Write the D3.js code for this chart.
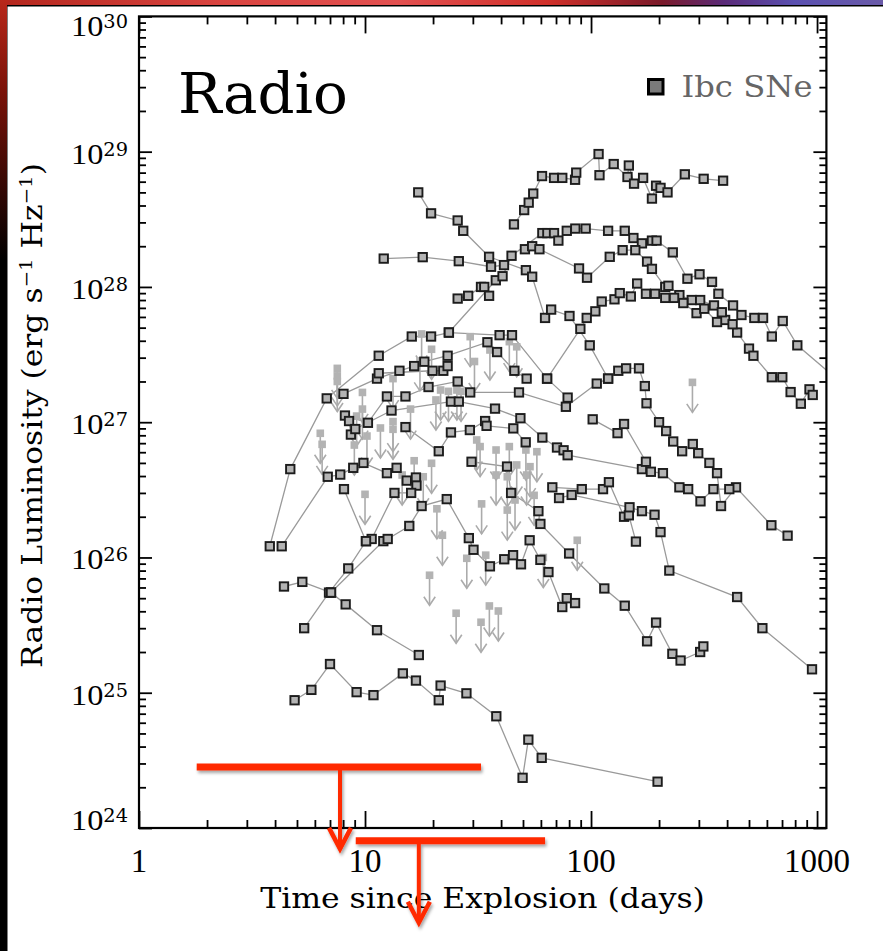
<!DOCTYPE html>
<html><head><meta charset="utf-8">
<script src="https://cdn.jsdelivr.net/npm/d3@7"></script>
<style>html,body{margin:0;padding:0;background:#000;overflow:hidden}svg{display:block}</style>
</head><body>
<svg id="c" width="883" height="951"></svg>
<script>
// ---------- data (days, erg/s/Hz) ----------
const curveA = [[45.6,2.9e28],[50.6,3.7e28],[53,4.2e28],[55.5,4.9e28],[60.7,6.6e28],[68.6,6.4e28],[74.6,6.4e28],[85,6.2e28],[86,7.0e28],[108,9.6e28],[109,6.7e28],[126,8.1e28],[145,6.5e28],[147,7.9e28],[155,5.8e28],[170,6.4e28],[186,4.5e28],[194,5.6e28],[203,5.4e28],[218,5.0e28],[260,6.8e28],[315,6.3e28],[384,6.1e28]];
const curveB = [[23.5,4.6e27],[37.9,1.12e28],[40.6,1.2e28],[44.5,1.7e28],[60.9,2.5e28],[64.1,2.5e28],[68.6,2.5e28],[71.7,2.2e28],[78.1,2.6e28],[85.2,2.7e28],[94.7,2.7e28],[119,2.6e28],[141,2.6e28],[154,2.3e28],[168,2.1e28],[186,2.2e28],[195,2.2e28],[230,1.8e28],[267,1.15e28],[302,1.24e28],[343,1.09e28],[366,8.9e27],[425,7.3e27],[463,6.2e27],[528,5.9e27],[577,5.9e27],[631,4.3e27],[705,5.6e27],[818,3.7e27],[1330,1.85e27]];
const curveC = [[51,1.9e28],[54.9,2.0e28],[59.1,1.9e28],[88.5,1.37e28],[96,1.17e28],[121,1.67e28],[138,1.87e28],[157,1.87e28],[177,1.54e28],[186,1.36e28],[213,1.0e28],[220,1.02e28],[246,8.7e27],[279,8.0e27],[304,8.0e27],[350,7.3e27],[392,5.7e27],[443,4.6e27],[500,3.5e27],[523,3.1e27],[631,2.15e27],[702,2.15e27],[764,1.67e27],[848,1.37e27],[926,1.75e27],[957,1.59e27]];
const curveD = [[17.2,5.0e28],[19.6,3.5e28],[25.7,3.1e28],[27.2,2.6e28],[35.4,1.67e28],[51.5,1.33e28],[54.9,1.19e28],[62.6,5.9e27],[66.6,6.8e27],[80.3,6.1e27],[98.7,3.7e27],[119,2.1e27],[132,2.4e27],[143,2.5e27],[163,2.5e27],[173,1.85e27],[176,1.38e27],[200,1.0e27],[215,8.6e26],[231,7.2e26],[253,6.1e26],[282,6.9e26],[298,5.9e26],[334,5.0e26],[361,4.2e26],[376,2.4e26],[438,3.3e26],[628,1.73e26],[741,1.45e26]];
const curveE = [[63.9,2.1e27],[89.7,4.9e27],[95.7,5.9e27],[104.5,6.6e27],[111.5,7.8e27],[127,8.1e27],[134,9.0e27],[150,8.5e27],[160,1.06e28],[175,8.9e27],[192,8.9e27],[213,8.3e27],[233,8.3e27],[256,7.6e27],[293,6.4e27],[317,6.9e27],[361,5.5e27],[379,6.5e27],[423,5.3e27]];
const curveF = [[12.1,1.62e28],[18.0,1.66e28],[26.0,1.55e28],[36.1,1.41e28],[41.2,1.45e28]];
const curveG = [[25.7,8.2e27],[28.6,8.6e27],[32.6,1.0e28],[33.7,1.0e28],[35.4,8.6e27]];
const curveH = [[3.79,1.21e26],[4.67,4.5e26],[6.77,1.5e27],[11.5,3.1e27],[16.1,4.3e27],[19.6,4.3e27],[23.5,4.6e27],[39.4,4.4e27],[44.7,4.4e27],[63.9,2.1e27],[78.8,1.52e27]];
const curveI = [[8.03,1.62e27],[11.3,2.1e27],[14.2,2.4e27],[16.5,2.6e27],[18.3,2.8e27],[23.2,3.1e27],[34.8,3.9e27],[38.4,3.3e27],[45.8,2.4e27],[51.9,2.1e27]];
const curveJ = [[11.5,2.3e27],[19.9,2.4e27],[22.2,2.4e27],[23.2,2.6e27]];
const curveK = [[4.28,1.21e26],[6.84,3.95e26],[7.77,4.1e26],[8.87,4.6e26],[9.84,5.0e26],[12.5,4.2e26],[13.8,4.6e26],[15.3,3.7e26],[16.8,3.9e26],[16.9,3.4e26]];
const curveM = [[8.15,1.12e27],[10.3,9.9e26],[12.5,1.55e27],[15.1,1.55e27],[19.1,1.82e27],[25.7,2.0e27],[29.2,1.66e27],[48,1.66e27],[77.4,1.3e27],[106,1.93e27],[119,2.1e27]];
const curveN = [[8.5,1.02e27],[8.66,8.1e26],[9.06,8.9e26],[13.1,1.22e27],[24,1.42e27],[26,1.42e27],[37.6,1.26e27],[48.7,1.07e27],[60.9,7.7e26],[70.7,6.5e26],[75.6,6.2e26],[78.8,5.7e26],[168,4.5e26]];
const curveT = [[15.1,9.2e26],[21.2,6.1e26],[24.0,8.4e26],[29.1,8.75e26],[34.0,1.02e27],[34.5,9.4e26],[45.3,9.0e26],[51.4,7.1e26]];
const curveO = [[4.38,6.1e25],[5.28,6.6e25],[7.07,5.5e25],[8.21,4.5e25],[11.3,2.9e25],[17.3,1.9e25]];
const curveP = [[5.38,3.0e25],[6.93,5.5e25],[8.43,8.3e25],[10.1,1.32e26],[10.7,1.37e26],[13.5,3.0e26],[16.0,3.0e26]];
const curveQ = [[7.07,5.5e25],[12.05,1.32e26],[12.6,1.37e26],[15.7,1.71e26],[17.8,2.4e26],[23.0,2.7e26],[28.8,1.39e26],[30.2,1.14e26],[35.7,8.6e25],[41.3,9.7e25],[45.2,1.04e26],[49.0,8.9e25],[53.5,1.34e26],[59.7,9.6e25],[64.8,7.8e25],[74.6,4.3e25],[78.1,5.0e25],[85,4.6e25]];
const curveR = [[8.07,3.2e26],[10.1,1.32e26]];
const curveS = [[4.88,8.8e24],[5.79,1.05e25],[7.0,1.63e25],[9.18,1.01e25],[10.9,9.6e24],[14.7,1.39e25],[16.8,1.23e25],[21.2,8.8e24],[21.6,1.13e25],[28.1,9.9e24],[38.1,6.7e24],[49.8,2.35e24],[52.8,4.5e24],[60.5,3.3e24],[197,2.2e24]];
const curveU = [[29.6,5.1e26],[42.5,4.7e26],[44.3,3.0e26],[58.5,2.2e26],[59.7,1.77e26],[80,1.07e26],[114.5,5.9e25],[141,4.4e25],[177,2.4e25],[194,3.3e25],[229,1.94e25],[249,1.73e25],[304,2.0e25],[314,2.2e25]];
const curveV = [[67.4,3.3e26],[91,3.2e26],[113,3.2e26],[120,3.6e26],[140,2.0e26],[147,2.05e26],[158,1.31e26]];
const curveW = [[72.2,2.75e26],[82.1,2.9e26],[148,2.35e26],[168,2.2e26],[191,2.07e26],[203,1.54e26],[222,8.0e25],[443,5.1e25],[573,3.0e25],[950,1.49e25]];
const curveX = [[101.7,1.05e27],[131,8.3e26],[140,9.7e26],[175,5.1e26],[184,4.3e26],[208,4.2e26],[246,3.3e26],[269,3.2e26],[305,2.6e26],[348,3.2e26],[409,3.2e26]];

// upper limits
const limT = [7.54,7.54,7.54,9.74,9.74,9.18,13.3,13.3,15.9,11.7,13.3,10.2,6.34,6.46,8.97,17.8,19.7,16.5,20.6,17.5,21.6,23.4,25.5,26.6,29.2,30.5,35.7,43.5,46.9,31.2,32.3,38.0,43.5,46.9,51.5,57.6,42.6,51.9,53.7,56,32.8,42.6,46.1,20.8,22,28.2,34.2,19.3,19.7,18.1,14.6,10.0,86.9,61.5,25.3,35.5,38.9,32.6,281,38.0];
const limL = [2.5e27,2.2e27,2.0e27,1.66e27,1.25e27,1.11e27,2.1e27,1.01e27,1.25e27,9.06e26,8.86e26,7.9e26,8.28e26,6.86e26,6.78e26,4.49e27,3.46e27,5.19e26,1.46e27,2.84e27,1.73e27,1.69e27,1.73e27,1.69e27,4.29e27,2.81e27,3.42e27,3.94e27,3.61e27,7.39e26,6.6e26,6.23e26,6.6e26,4.83e26,6.23e26,6.05e26,3.95e26,4.07e26,4.69e26,2.88e26,2.49e26,2.24e26,2.66e26,2.29e26,1.46e26,9.86e25,1.04e26,7.39e25,4.97e26,3.95e26,4.07e26,2.93e26,1.34e26,1.0e26,3.87e25,4.38e25,4.02e25,3.32e25,1.97e27,4.07e26];

// red limits (start day, end day, arrow day, luminosity)
const redStart = [1.8, 9.1];
const redEnd = [32.6, 62.6];
const redArrow = [7.75, 17.3];
const redLum = [2.83e24, 8.06e23];

// axes
const xDomain = [1, 1100];
const yDomain = [1e24, 1e30];
const xMajor = [1, 10, 100, 1000];
const xTickLabels = ["1", "10", "100", "1000"];
const yExponents = [24, 25, 26, 27, 28, 29, 30];

// ---------- drawing ----------
const W = 883, H = 951;
const L = 139, R = 826.4, T = 16.4, B = 828;
const svg = d3.select("#c");
const defs = svg.append("defs");

const tg = defs.append("linearGradient").attr("id","topg").attr("x1","0").attr("x2","1").attr("y1","0").attr("y2","0");
[["0","#b3261c"],["0.25","#d94440"],["0.45","#e25050"],["0.62","#d0302a"],["0.75","#7a1a2a"],["0.82","#5a2a78"],["0.9","#5a50b0"],["1","#6a5aa8"]]
  .forEach(s=>tg.append("stop").attr("offset",s[0]).attr("stop-color",s[1]));
const lg = defs.append("linearGradient").attr("id","leftg").attr("gradientUnits","userSpaceOnUse")
  .attr("x1",0).attr("x2",0).attr("y1",0).attr("y2",260);
[["0","#b8281a"],["0.35","#7a1208"],["1","#000"]].forEach(s=>lg.append("stop").attr("offset",s[0]).attr("stop-color",s[1]));
const flt = defs.append("filter").attr("id","sh").attr("x","-20%").attr("y","-50%").attr("width","140%").attr("height","200%");
flt.append("feDropShadow").attr("dx",1.5).attr("dy",2.5).attr("stdDeviation",1.6).attr("flood-color","#000").attr("flood-opacity",0.35);
defs.append("clipPath").attr("id","clip").append("rect").attr("x",L).attr("y",T).attr("width",R-L).attr("height",B-T);

svg.append("rect").attr("width",W).attr("height",H).attr("fill","#000");
svg.append("rect").attr("x",0).attr("y",0).attr("width",W).attr("height",5).attr("fill","url(#topg)");
svg.append("rect").attr("x",0).attr("y",0).attr("width",7).attr("height",H).attr("fill","url(#leftg)");
svg.append("rect").attr("x",7.5).attr("y",6.5).attr("width",W-7.5).attr("height",H-6.5).attr("fill","#fff");

const x = d3.scaleLog().domain(xDomain).range([L, R]);
const y = d3.scaleLog().domain(yDomain).range([B, T]);

// minor ticks
const xMinor = [];
[1,10,100].forEach(d=>{for(let m=2;m<=9;m++) xMinor.push(d*m);});
const yMinor = [];
for(let e=24;e<30;e++){for(let m=2;m<=9;m++) yMinor.push(m*Math.pow(10,e));}
const yMajor = yExponents.map(e=>Math.pow(10,e));

function styleAxis(g){ g.select(".domain").remove(); g.selectAll(".tick line").attr("stroke","#000").attr("stroke-width",1.8); }
svg.append("g").attr("transform",`translate(0,${B})`).call(d3.axisBottom(x).tickValues(xMajor).tickSize(-17).tickFormat("")).call(styleAxis);
svg.append("g").attr("transform",`translate(0,${B})`).call(d3.axisBottom(x).tickValues(xMinor).tickSize(-8).tickFormat("")).call(styleAxis);
svg.append("g").attr("transform",`translate(0,${T})`).call(d3.axisTop(x).tickValues(xMajor).tickSize(-17).tickFormat("")).call(styleAxis);
svg.append("g").attr("transform",`translate(0,${T})`).call(d3.axisTop(x).tickValues(xMinor).tickSize(-8).tickFormat("")).call(styleAxis);
svg.append("g").attr("transform",`translate(${L},0)`).call(d3.axisLeft(y).tickValues(yMajor).tickSize(-13).tickFormat("")).call(styleAxis);
svg.append("g").attr("transform",`translate(${L},0)`).call(d3.axisLeft(y).tickValues(yMinor).tickSize(-7).tickFormat("")).call(styleAxis);
svg.append("g").attr("transform",`translate(${R},0)`).call(d3.axisRight(y).tickValues(yMajor).tickSize(-13).tickFormat("")).call(styleAxis);
svg.append("g").attr("transform",`translate(${R},0)`).call(d3.axisRight(y).tickValues(yMinor).tickSize(-7).tickFormat("")).call(styleAxis);

// data layer
const curves = [curveA,curveB,curveC,curveD,curveE,curveF,curveG,curveH,curveI,curveJ,curveK,curveM,curveN,curveT,curveO,curveP,curveQ,curveR,curveS,curveU,curveV,curveW,curveX];
const plot = svg.append("g").attr("clip-path","url(#clip)");
const line = d3.line().x(d=>x(d[0])).y(d=>y(d[1]));
plot.append("g").selectAll("path").data(curves).join("path")
  .attr("d", line).attr("fill","none").attr("stroke","#9a9a9a").attr("stroke-width",1.3);

const limits = limT.map((t,i)=>[t, limL[i]]);
const ul = plot.append("g").selectAll("g").data(limits).join("g")
  .attr("transform", d=>`translate(${x(d[0])},${y(d[1])})`);
ul.append("line").attr("x1",0).attr("x2",0).attr("y1",0).attr("y2",30).attr("stroke","#ababab").attr("stroke-width",1.6);
ul.append("polyline").attr("points","-5.7,21.5 0,30 5.7,21.5").attr("fill","none").attr("stroke","#ababab").attr("stroke-width",1.6);
ul.append("rect").attr("x",-3.8).attr("y",-3.8).attr("width",7.6).attr("height",7.6).attr("fill","#b3b3b3");

plot.append("g").selectAll("rect").data(curves.flat()).join("rect")
  .attr("x", d=>x(d[0])-4.2).attr("y", d=>y(d[1])-4.2).attr("width",8.4).attr("height",8.4)
  .attr("fill","#b3b3b3").attr("stroke","#1c1c1c").attr("stroke-width",1.9);

// frame
svg.append("rect").attr("x",L).attr("y",T).attr("width",R-L).attr("height",B-T)
  .attr("fill","none").attr("stroke","#000").attr("stroke-width",2.2);

// y tick labels
const yLab = svg.append("g").attr("font-family","'Liberation Serif', serif").attr("fill","#000");
yExponents.forEach(e=>{
  let base = y(Math.pow(10,e)) + 12;
  if (e === 30) base = 36;
  if (e === 24) base = 830;
  const t = yLab.append("text").attr("x",128).attr("y",base).attr("text-anchor","end");
  t.append("tspan").attr("font-size",30).text("10");
  t.append("tspan").attr("font-size",18).attr("dy",-8).attr("font-family","'DejaVu Serif', serif").text(String(e));
  const w = t.node().getComputedTextLength();
  if (w > 0) t.attr("transform", `translate(128,0) scale(${57/w},1) translate(-128,0)`);
});
// x tick labels
svg.append("g").selectAll("text").data(xMajor).join("text")
  .attr("x", d=>x(d)).attr("y",872).attr("text-anchor","middle")
  .attr("font-family","'Liberation Serif', serif").attr("font-size",33).attr("fill","#000")
  .text((d,i)=>xTickLabels[i]);

function fit(sel, w){
  const len = sel.node().getComputedTextLength();
  if (len>0) sel.attr("transform", `scale(${w/len},1)`);
}
// x title
const xt = svg.append("g").attr("transform","translate(482.5,908)")
  .append("text").attr("text-anchor","middle").attr("font-family","'DejaVu Serif', serif").attr("font-size",28).attr("fill","#000")
  .text("Time since Explosion (days)");
fit(xt, 445);
// y title
const ytg = svg.append("g").attr("transform","translate(42,415.5) rotate(-90)");
const yt = ytg.append("text").attr("text-anchor","middle").attr("font-family","'DejaVu Serif', serif").attr("font-size",27).attr("fill","#000");
yt.append("tspan").text("Radio Luminosity (erg s");
yt.append("tspan").attr("dy",-10).attr("font-size",17).text("\u22121");
yt.append("tspan").attr("dy",10).text(" Hz");
yt.append("tspan").attr("dy",-10).attr("font-size",17).text("\u22121");
yt.append("tspan").attr("dy",10).text(")");
fit(yt, 505);
// panel title
const rt = svg.append("g").attr("transform","translate(178,113)")
  .append("text").attr("font-family","'DejaVu Serif', serif").attr("font-size",56).attr("fill","#000").text("Radio");
fit(rt, 170);
// legend
svg.append("rect").attr("x",648.5).attr("y",79.5).attr("width",14.5).attr("height",14.5)
  .attr("fill","#7a7a7a").attr("stroke","#000").attr("stroke-width",3);
const lt = svg.append("g").attr("transform","translate(681.5,97)")
  .append("text").attr("font-family","'DejaVu Serif', serif").attr("font-size",30).attr("fill","#666").text("Ibc SNe");
fit(lt, 131);

// red limits
const red = svg.append("g").attr("filter","url(#sh)");
redLum.forEach((l,i)=>{
  const yy = y(l);
  red.append("line").attr("x1",x(redStart[i])).attr("x2",x(redEnd[i])).attr("y1",yy).attr("y2",yy)
    .attr("stroke","#ff2a00").attr("stroke-width",7);
  const ax = x(redArrow[i]);
  red.append("line").attr("x1",ax).attr("x2",ax).attr("y1",yy).attr("y2",yy+81)
    .attr("stroke","#ff2a00").attr("stroke-width",4);
  red.append("polyline").attr("points",`${ax-11},${yy+61} ${ax},${yy+82} ${ax+11},${yy+61}`)
    .attr("fill","none").attr("stroke","#ff2a00").attr("stroke-width",4.5).attr("stroke-linejoin","miter");
});
</script>
</body></html>
